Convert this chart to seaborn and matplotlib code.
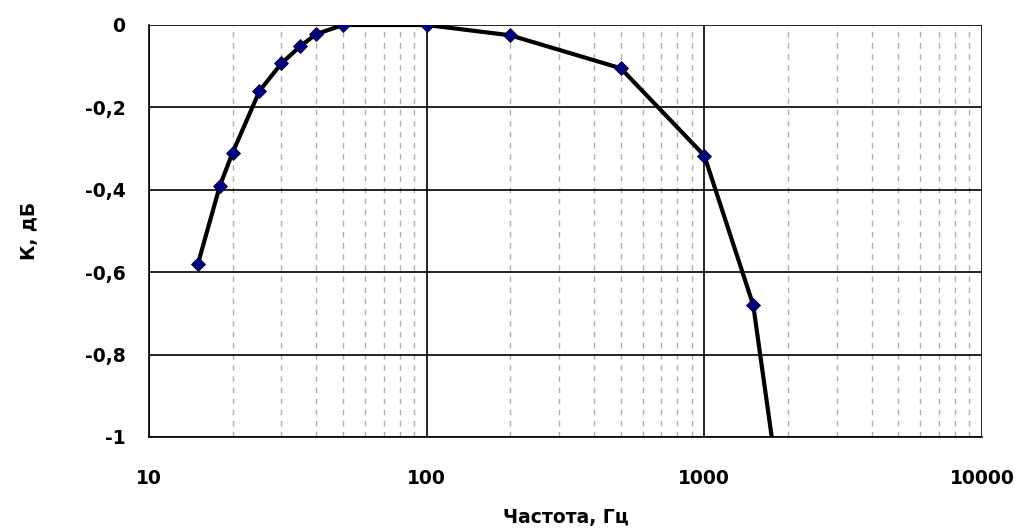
import numpy as np
import pandas as pd
import matplotlib
matplotlib.use("Agg")
import matplotlib.pyplot as plt
from matplotlib.ticker import FixedLocator, LogLocator, NullFormatter, FuncFormatter
import seaborn as sns

# frequency response data
freq = [15, 18, 20, 25, 30, 35, 40, 50, 100, 200, 500, 1000, 1500, 2000]
gain = [-0.58, -0.39, -0.31, -0.16, -0.093, -0.052, -0.022, 0.0, 0.0, -0.025, -0.105, -0.317, -0.68, -1.28]

x_ticks = [10, 100, 1000, 10000]
y_ticks = [0, -0.2, -0.4, -0.6, -0.8, -1]
x_label = "Частота, Гц"
y_label = "К, дБ"

df = pd.DataFrame({"f": freq, "k": gain})

sns.set_style("white")
plt.rcParams['font.family'] = ['DejaVu Sans']
plt.rcParams['font.weight'] = 'bold'
plt.rcParams['text.color'] = 'black'
plt.rcParams['axes.labelcolor'] = 'black'
plt.rcParams['xtick.color'] = 'black'
plt.rcParams['ytick.color'] = 'black'

fig = plt.figure(figsize=(10.21, 5.32), dpi=100)
ax = fig.add_axes([149 / 1021, 1 - 437 / 532, 833 / 1021, 412 / 532])

sns.lineplot(data=df, x="f", y="k", ax=ax, color="black", linewidth=3.0,
             marker="D", markersize=7, markerfacecolor="#000080",
             markeredgecolor="#000030", markeredgewidth=0.6, zorder=5)

ax.set_xscale("log")
ax.set_xlim(10, 10000)
ax.set_ylim(-1, 0)

ax.xaxis.set_major_locator(FixedLocator(x_ticks))
ax.xaxis.set_minor_locator(LogLocator(base=10, subs=np.arange(2, 10)))
ax.xaxis.set_minor_formatter(NullFormatter())
ax.xaxis.set_major_formatter(FuncFormatter(lambda v, p: f"{int(v)}"))
ax.yaxis.set_major_locator(FixedLocator(y_ticks))
ax.yaxis.set_major_formatter(FuncFormatter(lambda v, p: ("%g" % round(v, 2)).replace(".", ",")))

ax.grid(which="major", color="black", linewidth=1.2, linestyle="-")
ax.grid(which="minor", axis="x", color="#b0b0b0", linewidth=1.0, linestyle=(0, (4, 4)))
ax.set_axisbelow(True)

for s in ax.spines.values():
    s.set_visible(False)
for side in ("left", "bottom"):
    ax.spines[side].set_visible(True)
    ax.spines[side].set_color("black")
    ax.spines[side].set_linewidth(1.2)

ax.tick_params(axis="x", which="major", direction="out", length=7, width=1.2,
               color="black", pad=16, labelsize=13.5)
ax.tick_params(axis="x", which="minor", length=0)
ax.tick_params(axis="y", which="major", direction="out", length=8, width=1.2,
               color="black", pad=9, labelsize=13.5)
for lab in ax.get_xticklabels() + ax.get_yticklabels():
    lab.set_fontweight("bold")

ax.set_xlabel(x_label, fontsize=13.5, fontweight="bold")
ax.set_ylabel(y_label, fontsize=13.5, fontweight="bold")
ax.xaxis.set_label_coords(0.5, -0.172)
ax.yaxis.set_label_coords(-0.132, 0.5)

plt.savefig("out.png", dpi=100)
